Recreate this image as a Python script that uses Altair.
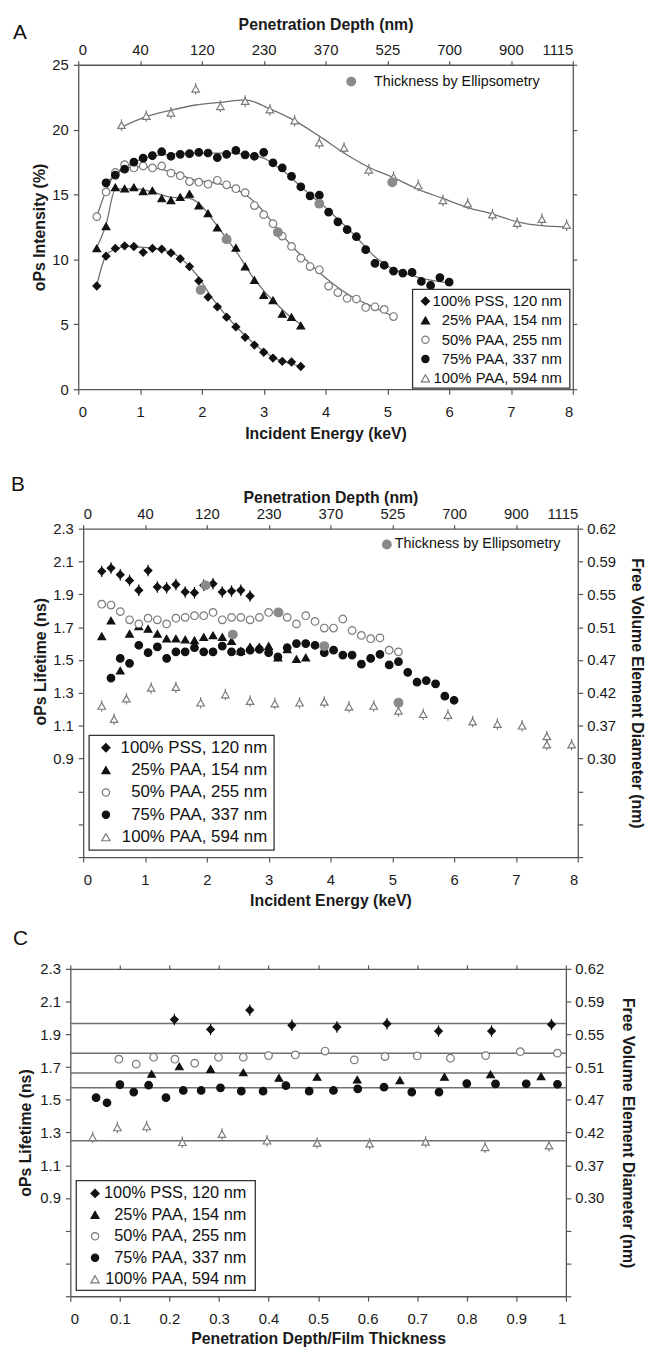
import altair as alt
import pandas as pd

FONT = "Liberation Sans"

SERIES = ["100% PSS, 120 nm", "25% PAA, 154 nm", "50% PAA, 255 nm",
          "75% PAA, 337 nm", "100% PAA, 594 nm"]
SHAPES = ["diamond", "triangle-up", "circle", "circle", "triangle-up"]
FILLS = ["#111111", "#111111", "#ffffff", "#111111", "#ffffff"]
STROKES = ["#111111", "#111111", "#7a7a7a", "#111111", "#7a7a7a"]
SIZES = [60, 58, 46, 46, 62]
ELL_LABEL = "Thickness by Ellipsometry"

ENERGY_TICKS = [0, 1, 2, 3, 4, 5, 6, 7, 8]
DEPTH_LABELS = ["0", "40", "120", "230", "370", "525", "700", "900", "1115"]
INTENSITY_TICKS = [0, 5, 10, 15, 20, 25]
LIFETIME_TICKS = [0.3, 0.5, 0.7, 0.9, 1.1, 1.3, 1.5, 1.7, 1.9, 2.1, 2.3]
DIAMETER_LABELS = ["0.30", "0.37", "0.42", "0.47", "0.51", "0.55", "0.59", "0.62"]
RATIO_TICKS = [0, 0.1, 0.2, 0.3, 0.4, 0.5, 0.6, 0.7, 0.8, 0.9, 1.0]

# ---------------- Panel A : oPs intensity vs incident energy ----------------
A_E_PSS = [0.3, 0.45, 0.6, 0.75, 0.9, 1.05, 1.2, 1.35, 1.5, 1.65, 1.8, 1.95, 2.1, 2.25,
           2.4, 2.55, 2.7, 2.85, 3.0, 3.15, 3.3, 3.45, 3.6]
A_I_PSS = [7.95, 10.25, 10.85, 11.05, 11.0, 10.55, 10.85, 10.8, 10.5, 10.05, 9.45, 8.35,
           7.1, 6.35, 5.55, 4.8, 4.0, 3.4, 2.85, 2.4, 2.15, 2.1, 1.75]
A_E_P25 = [0.3, 0.45, 0.6, 0.75, 0.9, 1.05, 1.2, 1.35, 1.5, 1.65, 1.8, 1.95, 2.1, 2.25,
           2.4, 2.55, 2.7, 2.85, 3.0, 3.15, 3.3, 3.45, 3.6]
A_I_P25 = [10.85, 12.55, 15.55, 15.45, 15.55, 15.25, 15.3, 14.7, 14.55, 14.8, 15.05, 14.15,
           13.55, 12.45, 11.7, 10.9, 9.45, 8.4, 7.25, 6.85, 5.8, 5.55, 4.9]
A_E_P50 = [0.3, 0.45, 0.6, 0.75, 0.9, 1.05, 1.2, 1.35, 1.5, 1.65, 1.8, 1.95, 2.1, 2.25,
           2.4, 2.55, 2.7, 2.85, 3.0, 3.15, 3.3, 3.45, 3.6, 3.75, 3.9, 4.05, 4.2, 4.35,
           4.5, 4.65, 4.8, 4.95, 5.1]
A_I_P50 = [13.3, 15.2, 16.7, 17.3, 17.05, 17.2, 17.05, 17.2, 16.65, 16.45, 16.0, 15.95,
           15.8, 16.1, 15.75, 15.45, 15.15, 14.15, 13.45, 12.75, 11.8, 11.0, 10.1, 9.45,
           9.2, 7.95, 7.45, 7.0, 6.95, 6.3, 6.35, 6.15, 5.6]
A_E_P75 = [0.45, 0.6, 0.75, 0.9, 1.05, 1.2, 1.35, 1.5, 1.65, 1.8, 1.95, 2.1, 2.25, 2.4,
           2.55, 2.7, 2.85, 3.0, 3.15, 3.3, 3.45, 3.6, 3.75, 3.9, 4.05, 4.2, 4.35, 4.5,
           4.65, 4.8, 4.95, 5.1, 5.25, 5.4, 5.55, 5.7, 5.85, 6.0]
A_I_P75 = [15.9, 16.5, 16.95, 17.5, 17.8, 18.0, 18.3, 17.95, 18.1, 18.15, 18.25, 18.2,
           17.85, 18.1, 18.4, 18.05, 17.95, 18.25, 17.45, 17.05, 16.4, 15.6, 14.9, 14.95,
           13.65, 12.9, 12.3, 11.75, 10.75, 9.7, 9.55, 9.1, 8.95, 9.0, 8.3, 8.0, 8.6, 8.25]
A_E_P100 = [0.7, 1.1, 1.5, 1.9, 2.3, 2.7, 3.1, 3.5, 3.9, 4.3, 4.7, 5.1, 5.5, 5.9, 6.3,
            6.7, 7.1, 7.5, 7.9]
A_I_P100 = [20.35, 21.05, 21.3, 23.15, 21.8, 22.2, 21.55, 20.7, 19.0, 18.6, 16.9, 16.35,
            15.7, 14.55, 14.3, 13.45, 12.8, 13.1, 12.65]
A_ERR_P100 = 0.45

FIT_E_PSS = [0.3, 0.45, 0.6, 0.8, 1.0, 1.3, 1.6, 1.9, 2.2, 2.5, 2.8, 3.1, 3.4, 3.6]
FIT_I_PSS = [8.0, 10.3, 10.8, 11.0, 10.95, 10.8, 10.3, 8.9, 6.8, 5.1, 3.7, 2.6, 2.0, 1.8]
FIT_E_P25 = [0.3, 0.45, 0.6, 0.9, 1.2, 1.5, 1.8, 2.0, 2.2, 2.4, 2.6, 2.8, 3.0, 3.2, 3.4, 3.6]
FIT_I_P25 = [10.9, 12.7, 15.4, 15.45, 15.2, 14.8, 14.7, 14.1, 12.9, 11.6, 10.3, 8.8, 7.6,
             6.6, 5.7, 5.0]
FIT_E_P50 = [0.3, 0.45, 0.6, 0.8, 1.0, 1.3, 1.6, 1.9, 2.2, 2.5, 2.7, 2.9, 3.1, 3.3, 3.5,
             3.7, 3.9, 4.1, 4.4, 4.7, 5.1]
FIT_I_P50 = [13.3, 15.3, 16.6, 17.1, 17.15, 17.0, 16.6, 16.1, 15.9, 15.5, 15.0, 14.2, 13.1,
             11.9, 10.8, 9.9, 9.0, 8.2, 7.2, 6.5, 5.6]
FIT_E_P75 = [0.45, 0.6, 0.9, 1.2, 1.5, 1.8, 2.1, 2.4, 2.7, 3.0, 3.2, 3.4, 3.6, 3.8, 4.0,
             4.2, 4.4, 4.6, 4.8, 5.0, 5.3, 5.6, 6.0]
FIT_I_P75 = [15.9, 16.5, 17.5, 17.95, 18.1, 18.2, 18.2, 18.2, 18.1, 17.8, 17.2, 16.5, 15.6,
             14.8, 14.0, 13.1, 12.2, 11.2, 10.2, 9.5, 8.9, 8.5, 8.2]
FIT_E_P100 = [0.7, 1.1, 1.5, 1.9, 2.3, 2.7, 3.1, 3.5, 3.9, 4.3, 4.7, 5.1, 5.5, 5.9, 6.3,
              6.7, 7.1, 7.5, 7.9]
FIT_I_P100 = [20.2, 21.0, 21.5, 21.9, 22.1, 22.3, 21.6, 20.7, 19.5, 18.2, 17.1, 16.3, 15.4,
              14.7, 14.0, 13.5, 12.9, 12.6, 12.5]

ELL_A_E = [1.98, 2.4, 3.23, 3.9, 5.08]
ELL_A_I = [7.65, 11.55, 12.1, 14.3, 15.95]

# ---------------- Panel B : oPs lifetime vs incident energy ----------------
B_E_PSS = [0.3, 0.45, 0.6, 0.75, 0.9, 1.05, 1.2, 1.35, 1.5, 1.65, 1.8, 1.95, 2.1, 2.25,
           2.4, 2.55, 2.7]
B_L_PSS = [2.04, 2.06, 2.02, 1.985, 1.925, 2.045, 1.945, 1.94, 1.96, 1.915, 1.91, 1.955,
           1.965, 1.915, 1.92, 1.925, 1.89]
B_E_P25 = [0.3, 0.45, 0.6, 0.75, 0.9, 1.05, 1.2, 1.35, 1.5, 1.65, 1.8, 1.95, 2.1, 2.25,
           2.4, 2.55, 2.7, 2.85, 3.0, 3.15, 3.3, 3.45, 3.6]
B_L_P25 = [1.645, 1.74, 1.435, 1.66, 1.705, 1.69, 1.66, 1.63, 1.63, 1.625, 1.62, 1.64,
           1.65, 1.64, 1.615, 1.555, 1.58, 1.58, 1.585, 1.515, 1.565, 1.505, 1.515]
B_E_P50 = [0.3, 0.45, 0.6, 0.75, 0.9, 1.05, 1.2, 1.35, 1.5, 1.65, 1.8, 1.95, 2.1, 2.25,
           2.4, 2.55, 2.7, 2.85, 3.0, 3.15, 3.3, 3.45, 3.6, 3.75, 3.9, 4.05, 4.2, 4.35,
           4.5, 4.65, 4.8, 4.95, 5.1]
B_L_P50 = [1.84, 1.835, 1.795, 1.745, 1.72, 1.755, 1.745, 1.72, 1.755, 1.76, 1.77, 1.77,
           1.79, 1.745, 1.76, 1.76, 1.745, 1.76, 1.79, 1.79, 1.76, 1.72, 1.77, 1.735,
           1.695, 1.695, 1.75, 1.68, 1.65, 1.63, 1.635, 1.56, 1.55]
B_E_P75 = [0.45, 0.6, 0.75, 0.9, 1.05, 1.2, 1.35, 1.5, 1.65, 1.8, 1.95, 2.1, 2.25, 2.4,
           2.55, 2.7, 2.85, 3.0, 3.15, 3.3, 3.45, 3.6, 3.75, 3.9, 4.05, 4.2, 4.35, 4.5,
           4.65, 4.8, 4.95, 5.1, 5.25, 5.4, 5.55, 5.7, 5.85, 6.0]
B_L_P75 = [1.39, 1.51, 1.48, 1.59, 1.545, 1.58, 1.51, 1.55, 1.55, 1.575, 1.55, 1.55,
           1.585, 1.55, 1.55, 1.56, 1.565, 1.545, 1.52, 1.575, 1.6, 1.6, 1.59, 1.545,
           1.56, 1.53, 1.53, 1.475, 1.51, 1.535, 1.47, 1.49, 1.425, 1.365, 1.375, 1.355,
           1.28, 1.255]
B_E_P100 = [0.3, 0.5, 0.7, 1.1, 1.5, 1.9, 2.3, 2.7, 3.1, 3.5, 3.9, 4.3, 4.7, 5.1, 5.5,
            5.9, 6.3, 6.7, 7.1, 7.5, 7.5, 7.9]
B_L_P100 = [1.22, 1.14, 1.265, 1.33, 1.335, 1.24, 1.29, 1.25, 1.235, 1.24, 1.245, 1.215,
            1.22, 1.19, 1.17, 1.165, 1.125, 1.11, 1.1, 1.035, 0.985, 0.985]
ELL_B_E = [1.98, 2.42, 3.16, 3.9, 5.1]
ELL_B_L = [1.955, 1.655, 1.79, 1.585, 1.24]
LIFETIME_ERR = 0.035

# ---------------- Panel C : oPs lifetime vs depth / thickness ----------------
C_R_PSS = [0.21, 0.283, 0.362, 0.447, 0.538, 0.639, 0.743, 0.85, 0.971]
C_L_PSS = [1.99, 1.93, 2.048, 1.955, 1.945, 1.965, 1.92, 1.92, 1.96]
C_R_P25 = [0.164, 0.22, 0.283, 0.349, 0.421, 0.498, 0.579, 0.665, 0.755, 0.848, 0.95]
C_L_P25 = [1.658, 1.704, 1.688, 1.667, 1.634, 1.64, 1.623, 1.619, 1.64, 1.655, 1.643]
C_R_P50 = [0.098, 0.133, 0.168, 0.211, 0.251, 0.299, 0.349, 0.4, 0.454, 0.514, 0.573,
           0.635, 0.7, 0.767, 0.838, 0.908, 0.983]
C_L_P50 = [1.748, 1.718, 1.76, 1.748, 1.724, 1.76, 1.76, 1.77, 1.774, 1.798, 1.744,
           1.764, 1.768, 1.754, 1.77, 1.794, 1.785]
C_R_P75 = [0.052, 0.074, 0.1, 0.128, 0.158, 0.193, 0.228, 0.264, 0.303, 0.345, 0.389,
           0.435, 0.482, 0.531, 0.58, 0.633, 0.689, 0.744, 0.8, 0.858, 0.92, 0.983]
C_L_P75 = [1.513, 1.482, 1.593, 1.547, 1.589, 1.513, 1.557, 1.557, 1.573, 1.553, 1.553,
           1.587, 1.553, 1.557, 1.567, 1.577, 1.547, 1.547, 1.599, 1.597, 1.598, 1.595]
C_R_P100 = [0.045, 0.095, 0.154, 0.226, 0.306, 0.397, 0.498, 0.604, 0.717, 0.837, 0.966]
C_L_P100 = [1.271, 1.331, 1.337, 1.241, 1.291, 1.25, 1.237, 1.232, 1.243, 1.21, 1.22]
C_MEAN = [1.966, 1.664, 1.785, 1.573, 1.25]


def long_df(groups):
    rows = []
    for s, xs, vs in groups:
        for x, v in zip(xs, vs):
            rows.append({"series": s, "x": x, "v": v})
    return pd.DataFrame(rows)


def js_array(items):
    return "[" + ",".join("'" + t + "'" for t in items) + "]"


PANEL_W = 513
shape_scale = alt.Scale(domain=SERIES, range=SHAPES)
fill_scale = alt.Scale(domain=SERIES, range=FILLS)
stroke_scale = alt.Scale(domain=SERIES, range=STROKES)
size_scale = alt.Scale(domain=SERIES, range=SIZES)


def legend_layers(box, x_sym, x_txt_right, y0, dy, fsize):
    one = pd.DataFrame({"k": [0]})
    lay = [alt.Chart(one).mark_rect(fill="white", stroke="#333333", strokeWidth=1.3).encode(
        x=alt.value(box[0]), x2=alt.value(box[1]), y=alt.value(box[2]), y2=alt.value(box[3]))]
    for i in range(len(SERIES)):
        d = pd.DataFrame({"label": [SERIES[i]]})
        yy = y0 + i * dy
        lay.append(alt.Chart(d).mark_point(shape=SHAPES[i], filled=True, fill=FILLS[i],
                                           stroke=STROKES[i], strokeWidth=1.2,
                                           size=SIZES[i] + 8, opacity=1).encode(
            x=alt.value(x_sym), y=alt.value(yy)))
        lay.append(alt.Chart(d).mark_text(align="right", baseline="middle", font=FONT,
                                          fontSize=fsize, color="#111111").encode(
            x=alt.value(x_txt_right), y=alt.value(yy), text="label:N"))
    return lay


def text_layer(txt, x, y, size, weight="normal"):
    d = pd.DataFrame({"t": [txt]})
    return alt.Chart(d).mark_text(align="left", baseline="middle", font=FONT, fontSize=size,
                                  fontWeight=weight, color="#111111").encode(
        x=alt.value(x), y=alt.value(y), text="t:N")


def ell_layers(x_dot, x_txt, y):
    d = pd.DataFrame({"t": [ELL_LABEL]})
    return [
        alt.Chart(d).mark_point(filled=True, color="#8a8a8a", size=100, opacity=1).encode(
            x=alt.value(x_dot), y=alt.value(y)),
        alt.Chart(d).mark_text(align="left", baseline="middle", font=FONT, fontSize=14.5,
                               color="#111111").encode(x=alt.value(x_txt), y=alt.value(y),
                                                       text="t:N"),
    ]


def points_layer(df, xs, ys):
    return alt.Chart(df).mark_point(filled=True, strokeWidth=1.2, opacity=1).encode(
        x=alt.X("x:Q", scale=xs, axis=None),
        y=alt.Y("v:Q", scale=ys, axis=None),
        shape=alt.Shape("series:N", scale=shape_scale, legend=None),
        fill=alt.Fill("series:N", scale=fill_scale, legend=None),
        stroke=alt.Stroke("series:N", scale=stroke_scale, legend=None),
        size=alt.Size("series:N", scale=size_scale, legend=None),
    )


def err_layer(df, xs, ys, keep, err):
    return alt.Chart(df).transform_filter(
        alt.FieldOneOfPredicate(field="series", oneOf=keep)
    ).transform_calculate(lo="datum.v - " + str(err), hi="datum.v + " + str(err)).mark_rule(
        strokeWidth=1.2).encode(
        x=alt.X("x:Q", scale=xs, axis=None),
        y=alt.Y("lo:Q", scale=ys, axis=None),
        y2="hi:Q",
        stroke=alt.Stroke("series:N", scale=stroke_scale, legend=None),
    )


ax_common = dict(grid=False, labelOverlap=False)
depth_expr = js_array(DEPTH_LABELS) + "[round(datum.value)]"
left_life_expr = "datum.value < 0.8 ? '' : format(datum.value, '.1f')"
right_life_expr = ("datum.value < 0.8 ? '' : " + js_array(DIAMETER_LABELS)
                   + "[round((datum.value - 0.9) / 0.2)]")

# ---------------- build panel A ----------------
dxA, pwA, hA = 8, 500, 328
xsA = alt.Scale(domain=[0, 8], range=[dxA, dxA + pwA], nice=False, zero=False)
ysA = alt.Scale(domain=[0, 25], nice=False, zero=False)
ptsA = long_df([(SERIES[0], A_E_PSS, A_I_PSS), (SERIES[1], A_E_P25, A_I_P25),
                (SERIES[2], A_E_P50, A_I_P50), (SERIES[3], A_E_P75, A_I_P75),
                (SERIES[4], A_E_P100, A_I_P100)])
fitA = long_df([(SERIES[0], FIT_E_PSS, FIT_I_PSS), (SERIES[1], FIT_E_P25, FIT_I_P25),
                (SERIES[2], FIT_E_P50, FIT_I_P50), (SERIES[3], FIT_E_P75, FIT_I_P75),
                (SERIES[4], FIT_E_P100, FIT_I_P100)])
ellA = pd.DataFrame({"x": ELL_A_E, "v": ELL_A_I})

A_axes1 = alt.Chart(fitA).mark_point(opacity=0).encode(
    x=alt.X("x:Q", scale=xsA, axis=alt.Axis(orient="bottom", values=ENERGY_TICKS, format="d",
                                             title="Incident Energy (keV)", tickSize=5,
                                             labelPadding=11, titlePadding=6, **ax_common)),
    y=alt.Y("v:Q", scale=ysA, axis=alt.Axis(orient="left", values=INTENSITY_TICKS, format="d",
                                             title="oPs Intensity (%)", offset=-dxA, tickSize=5,
                                             labelPadding=5, titlePadding=4, **ax_common)))
A_axes2 = alt.Chart(fitA).mark_point(opacity=0).encode(
    x=alt.X("x:Q", scale=xsA, axis=alt.Axis(orient="top", values=ENERGY_TICKS, tickSize=4,
                                             labelExpr=depth_expr, title="Penetration Depth (nm)",
                                             labelPadding=3, titlePadding=11, **ax_common)),
    y=alt.Y("v:Q", scale=ysA, axis=alt.Axis(orient="right", values=INTENSITY_TICKS, labels=False,
                                             title=None, offset=-(PANEL_W - dxA - pwA),
                                             tickSize=4, **ax_common)))
A_fit = alt.Chart(fitA).mark_line(color="#6f6f6f", strokeWidth=1.3, interpolate="monotone").encode(
    x=alt.X("x:Q", scale=xsA, axis=None), y=alt.Y("v:Q", scale=ysA, axis=None), detail="series:N")
A_ell = alt.Chart(ellA).mark_point(filled=True, color="#8a8a8a", size=100, opacity=1).encode(
    x=alt.X("x:Q", scale=xsA, axis=None), y=alt.Y("v:Q", scale=ysA, axis=None))

panelA = alt.layer(
    A_axes1, A_axes2, A_fit,
    err_layer(ptsA, xsA, ysA, [SERIES[4]], A_ERR_P100),
    points_layer(ptsA, xsA, ysA), A_ell,
    *legend_layers((346, 505, 227, 327), 359, 497, 239, 19.5, 15),
    *ell_layers(284, 307, 17),
    text_layer("A", -58, -32, 21),
).resolve_axis(x="independent", y="independent").properties(width=PANEL_W, height=hA)

# ---------------- build panel B ----------------
dxB, pwB, hB = 13, 500, 332
xsB = alt.Scale(domain=[0, 8], range=[dxB, dxB + pwB], nice=False, zero=False)
ysB = alt.Scale(domain=[0.3, 2.3], nice=False, zero=False)
ptsB = long_df([(SERIES[0], B_E_PSS, B_L_PSS), (SERIES[1], B_E_P25, B_L_P25),
                (SERIES[2], B_E_P50, B_L_P50), (SERIES[3], B_E_P75, B_L_P75),
                (SERIES[4], B_E_P100, B_L_P100)])
ellB = pd.DataFrame({"x": ELL_B_E, "v": ELL_B_L})

B_axes1 = alt.Chart(ptsB).mark_point(opacity=0).encode(
    x=alt.X("x:Q", scale=xsB, axis=alt.Axis(orient="bottom", values=ENERGY_TICKS, format="d",
                                             title="Incident Energy (keV)", tickSize=5,
                                             labelPadding=11, titlePadding=5, **ax_common)),
    y=alt.Y("v:Q", scale=ysB, axis=alt.Axis(orient="left", values=LIFETIME_TICKS,
                                             labelExpr=left_life_expr, title="oPs Lifetime (ns)",
                                             offset=-dxB, tickSize=5, labelPadding=5,
                                             titlePadding=4, titleY=134, **ax_common)))
B_axes2 = alt.Chart(ptsB).mark_point(opacity=0).encode(
    x=alt.X("x:Q", scale=xsB, axis=alt.Axis(orient="top", values=ENERGY_TICKS, tickSize=4,
                                             labelExpr=depth_expr, title="Penetration Depth (nm)",
                                             labelPadding=3, titlePadding=1, **ax_common)),
    y=alt.Y("v:Q", scale=ysB, axis=alt.Axis(orient="right", values=LIFETIME_TICKS,
                                             labelExpr=right_life_expr,
                                             title="Free Volume Element Diameter (nm)",
                                             offset=-(PANEL_W - dxB - pwB), tickSize=5,
                                             labelPadding=4, titlePadding=13, **ax_common)))
B_ell = alt.Chart(ellB).mark_point(filled=True, color="#8a8a8a", size=100, opacity=1).encode(
    x=alt.X("x:Q", scale=xsB, axis=None), y=alt.Y("v:Q", scale=ysB, axis=None))

panelB = alt.layer(
    B_axes1, B_axes2,
    err_layer(ptsB, xsB, ysB, [SERIES[0], SERIES[4]], LIFETIME_ERR),
    points_layer(ptsB, xsB, ysB), B_ell,
    *legend_layers((19, 206, 209, 325), 36, 199, 221.5, 22.6, 17),
    *ell_layers(320, 328, 16),
    text_layer("B", -60, -44, 21),
).resolve_axis(x="independent", y="independent").properties(width=PANEL_W, height=hB)

# ---------------- build panel C ----------------
dxC, pwC, hC = 0, 501, 331
xsC = alt.Scale(domain=[0, 1], range=[dxC, dxC + pwC], nice=False, zero=False)
ysC = alt.Scale(domain=[0.3, 2.3], nice=False, zero=False)
ptsC = long_df([(SERIES[0], C_R_PSS, C_L_PSS), (SERIES[1], C_R_P25, C_L_P25),
                (SERIES[2], C_R_P50, C_L_P50), (SERIES[3], C_R_P75, C_L_P75),
                (SERIES[4], C_R_P100, C_L_P100)])
meanC = pd.DataFrame({"series": SERIES, "v": C_MEAN})

C_axes1 = alt.Chart(ptsC).mark_point(opacity=0).encode(
    x=alt.X("x:Q", scale=xsC, axis=alt.Axis(orient="bottom", values=RATIO_TICKS, format=".1~f",
                                             title="Penetration Depth/Film Thickness", tickSize=5,
                                             labelPadding=11, titlePadding=4, **ax_common)),
    y=alt.Y("v:Q", scale=ysC, axis=alt.Axis(orient="left", values=LIFETIME_TICKS,
                                             labelExpr=left_life_expr, title="oPs Lifetime (ns)",
                                             offset=-dxC, tickSize=5, labelPadding=5,
                                             titlePadding=6, **ax_common)))
C_axes2 = alt.Chart(ptsC).mark_point(opacity=0).encode(
    x=alt.X("x:Q", scale=xsC, axis=alt.Axis(orient="top", values=RATIO_TICKS, labels=False,
                                             title=None, tickSize=4, **ax_common)),
    y=alt.Y("v:Q", scale=ysC, axis=alt.Axis(orient="right", values=LIFETIME_TICKS,
                                             labelExpr=right_life_expr,
                                             title="Free Volume Element Diameter (nm)",
                                             offset=-(PANEL_W - dxC - pwC), tickSize=5,
                                             labelPadding=4, titlePadding=16, **ax_common)))
C_mean = alt.Chart(meanC).transform_calculate(x0="0", x1="1").mark_rule(
    color="#707070", strokeWidth=1.5).encode(
    x=alt.X("x0:Q", scale=xsC, axis=None), x2="x1:Q",
    y=alt.Y("v:Q", scale=ysC, axis=None))

panelC = alt.layer(
    C_axes1, C_axes2, C_mean,
    err_layer(ptsC, xsC, ysC, [SERIES[0], SERIES[4]], LIFETIME_ERR),
    points_layer(ptsC, xsC, ysC),
    *legend_layers((6, 187, 214, 325), 25, 178, 227, 21.7, 16.5),
    text_layer("C", -58, -30, 21),
).resolve_axis(x="independent", y="independent").properties(width=PANEL_W, height=hC)

top = alt.vconcat(panelA, panelB, spacing=31)
chart = alt.vconcat(top, panelC, spacing=18).properties(
    padding={"left": 2, "top": 0, "right": 1, "bottom": 1},
    background="white",
).configure_view(stroke="transparent").configure_axis(
    domainColor="#555555", domainWidth=1.3, tickColor="#555555", tickWidth=1.2,
    labelFont=FONT, labelFontSize=15, labelColor="#1a1a1a",
    titleFont=FONT, titleFontSize=16, titleFontWeight="bold", titleColor="#1a1a1a",
)

chart.save("out.html", embed_options={"renderer": "svg", "actions": False})
